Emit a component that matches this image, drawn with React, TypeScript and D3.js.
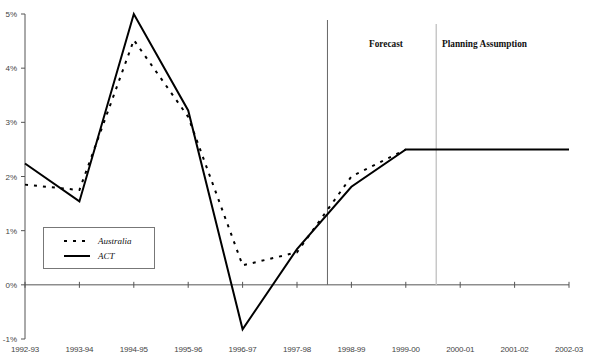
import React from "react";
import * as d3 from "d3";

const years = ["1992-93", "1993-94", "1994-95", "1995-96", "1996-97", "1997-98", "1998-99", "1999-00", "2000-01", "2001-02", "2002-03"];
const australia = [1.85, 1.75, 4.52, 3.1, 0.36, 0.6, 2.0, 2.5, 2.5, 2.5, 2.5];
const australiaYears = years.slice(0, 8);
const act = [2.24, 1.54, 5.0, 3.22, -0.82, 0.66, 1.81, 2.5, 2.5, 2.5, 2.5];
const yTicks = [-1, 0, 1, 2, 3, 4, 5];

const W = 590;
const H = 362;

export default function App() {
  const x = d3.scalePoint<string>().domain(years).range([25, 569]);
  const y = d3.scaleLinear().domain([-1, 5]).range([339, 14]);

  const line = d3
    .line<[string, number]>()
    .x((d) => x(d[0]) as number)
    .y((d) => y(d[1]));

  const ausPts = australiaYears.map((yr, i) => [yr, australia[i]] as [string, number]);
  const actPts = years.map((yr, i) => [yr, act[i]] as [string, number]);

  // Boundaries between actuals, forecast and planning-assumption periods
  const step = x.step();
  const forecastX = (x("1997-98") as number) + step * 0.56;
  const planX = (x("1999-00") as number) + step * 0.56;

  const labelFont = "Liberation Sans, Arial, sans-serif";
  const serif = "Liberation Serif, Times New Roman, serif";

  return (
    <svg width={W} height={H} style={{ position: "absolute", left: 0, top: 0 }}>
      <rect width={W} height={H} fill="#fff" />
      {/* y axis */}
      <line x1={25} x2={25} y1={y(5)} y2={y(-1)} stroke="#555" strokeWidth={1} />
      {yTicks.map((t) => (
        <g key={t}>
          <line x1={21} x2={25} y1={y(t)} y2={y(t)} stroke="#555" />
          <text x={17} y={y(t) + 3} textAnchor="end" fontSize={8} fontFamily={labelFont} fill="#444">
            {t}%
          </text>
        </g>
      ))}
      {/* zero line with category ticks */}
      <line x1={25} x2={569} y1={y(0)} y2={y(0)} stroke="#555" />
      {years.map((yr) => (
        <g key={yr}>
          <line x1={x(yr)} x2={x(yr)} y1={y(0) - 3} y2={y(0) + 3} stroke="#555" />
          <text x={x(yr)} y={352} textAnchor="middle" fontSize={8} fontFamily={labelFont} fill="#444" letterSpacing={-0.2}>
            {yr}
          </text>
        </g>
      ))}
      {/* period dividers */}
      <line x1={forecastX} x2={forecastX} y1={20} y2={y(0)} stroke="#666" />
      <line x1={planX} x2={planX} y1={24} y2={y(0)} stroke="#c8c8c8" strokeWidth={1.5} />
      <text x={386} y={47} textAnchor="middle" fontSize={9.3} fontWeight="bold" fontFamily={serif} fill="#111">
        Forecast
      </text>
      <text x={442} y={47} fontSize={9.3} fontWeight="bold" fontFamily={serif} fill="#111">
        Planning Assumption
      </text>
      {/* series */}
      <path d={line(ausPts) ?? ""} fill="none" stroke="#000" strokeWidth={2} strokeDasharray="3,6" />
      <path d={line(actPts) ?? ""} fill="none" stroke="#000" strokeWidth={2} />
      {/* legend */}
      <rect x={43.5} y={227.5} width={111} height={41} fill="#fff" stroke="#777" />
      <line x1={64} x2={90} y1={241} y2={241} stroke="#000" strokeWidth={2} strokeDasharray="3,6" />
      <line x1={64} x2={90} y1={256} y2={256} stroke="#000" strokeWidth={2} />
      <text x={98} y={244} fontSize={9} fontStyle="italic" fontFamily={serif} fill="#111">
        Australia
      </text>
      <text x={98} y={259} fontSize={9} fontStyle="italic" fontFamily={serif} fill="#111">
        ACT
      </text>
    </svg>
  );
}
